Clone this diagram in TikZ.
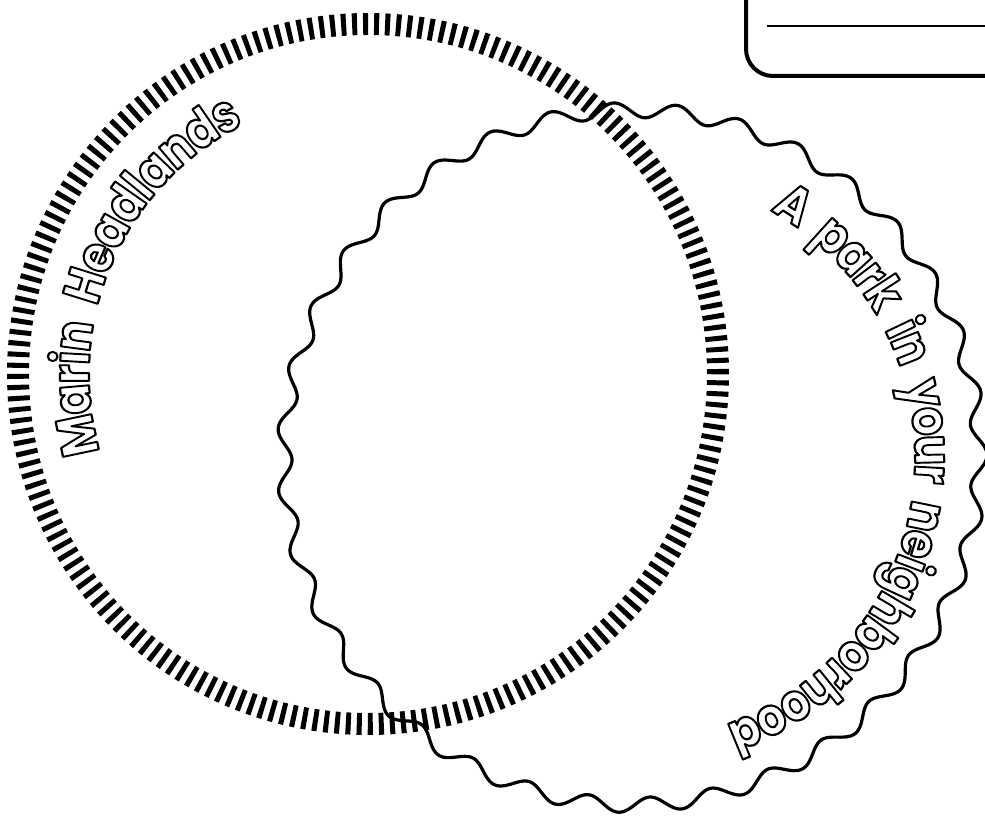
\documentclass[tikz,border=0pt]{standalone}
\usepackage{fontspec}
\usepackage{graphicx}
\usetikzlibrary{calc}
\newfontfamily\lblfam{Poppins}[BoldFont={* Bold}]
\newcommand\lblfont{\lblfam\bfseries\fontsize{52}{56}\selectfont}
\newcommand\glyphscale{0.87}
\newcommand\wsp{\hspace*{0.42em}}
\newcommand\hollow[1]{\special{pdf:literal direct 2 Tr 0 G 2.2 w 1 j}#1\special{pdf:literal direct 0 Tr}}
\newdimen\totw
\newsavebox\chbox
\tikzset{
  ring/.style={line width=22pt, dash pattern=on 5pt off 5.9956pt},
  wave/.style={line width=3.2pt, line join=round},
  labelbox/.style={line width=4pt, rounded corners=27pt},
  writeline/.style={line width=2pt},
  glyph/.style={inner sep=0pt, anchor=base, text=white, font=\lblfont}
}
% measure (outside the picture): #1 prefix, #2 list
\newcommand\measuretext[2]{%
  \global\totw=0pt\relax
  \foreach \ch [count=\i] in {#2}{%
    \sbox\chbox{\lblfont\ch}%
    \global\advance\totw by \wd\chbox\relax
    \expandafter\xdef\csname cw#1\i\endcsname{\the\wd\chbox}%
  }%
  \expandafter\xdef\csname tw#1\endcsname{\the\totw}%
}
% place: #1 prefix, #2 center, #3 radius, #4 start angle, #5 span, #6 list
\newcommand\arctext[6]{%
  \pgfmathsetmacro\arcscale{(#5*pi/180*#3)/\csname tw#1\endcsname}%
  \xdef\curang{#4}%
  \foreach \ch [count=\i] in {#6}{%
    \edef\chwtxt{\csname cw#1\i\endcsname}%
    \pgfmathsetmacro\dang{\chwtxt*\arcscale/#3*180/pi}%
    \pgfmathsetmacro\midang{\curang-\dang/2}%
    \node[glyph, rotate=\midang-90] (#1\i) at ($(#2)+(\midang:#3)$) {\scalebox{\glyphscale}[1]{\hollow{\ch}}};%
    \pgfmathsetmacro\nextang{\curang-\dang}%
    \xdef\curang{\nextang}%
  }%
}
\begin{document}
\measuretext{m}{M,a,r,i,n,\wsp,H,e,a,d,l,a,n,d,s}%
\measuretext{p}{A,\wsp,p,a,r,k,\wsp,i,n,\wsp,y,o,u,r,\wsp,n,e,i,g,h,b,o,r,h,o,o,d}%
\begin{tikzpicture}[x=1pt,y=1pt]
\useasboundingbox (0,0) rectangle (985,815);
\clip (0,0) rectangle (985,815);
\coordinate (lc) at (368,441);
\coordinate (rc) at (632,357.5);
\draw[ring] (lc) circle[radius=350];
\draw[wave] plot[domain=0:360, samples=1081, variable=\t]
  ({632+(347.5+7.5*cos(35*(\t-82.7)))*cos(\t)}, {357.5+(347.5+7.5*cos(35*(\t-82.7)))*sin(\t)}) -- cycle;
\draw[labelbox] (746,739) rectangle (1040,860);
\coordinate (ls) at (767,789);
\coordinate (le) at (990,789);
\draw[writeline] (ls) -- (le);
\arctext{m}{lc}{279}{196}{79.5}{M,a,r,i,n,\wsp,H,e,a,d,l,a,n,d,s}
\arctext{p}{rc}{283}{60.5}{131}{A,\wsp,p,a,r,k,\wsp,i,n,\wsp,y,o,u,r,\wsp,n,e,i,g,h,b,o,r,h,o,o,d}
\end{tikzpicture}
\end{document}
